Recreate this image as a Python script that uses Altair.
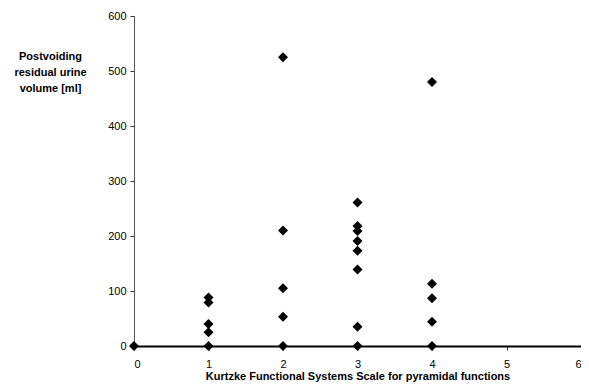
import altair as alt
import pandas as pd

# data
kfs_score = [0,
             1, 1, 1, 1, 1,
             2, 2, 2, 2, 2,
             3, 3, 3, 3, 3, 3, 3, 3,
             4, 4, 4, 4, 4]
residual_ml = [0,
               88, 79, 40, 25, 0,
               525, 210, 105, 53, 0,
               261, 218, 209, 191, 173, 139, 35, 0,
               480, 113, 87, 44, 0]

x_ticks = [0, 1, 2, 3, 4, 5, 6]
y_ticks = [0, 100, 200, 300, 400, 500, 600]

df = pd.DataFrame({"kfs": kfs_score, "pvr": residual_ml})

FONT = "Liberation Sans"

chart = alt.Chart(df).mark_point(
    shape="diamond", filled=True, color="black", size=100, opacity=1
).encode(
    x=alt.X("kfs:Q",
            scale=alt.Scale(domain=[0, 6], nice=False, zero=True),
            axis=alt.Axis(values=x_ticks, format="d", grid=False,
                          domainColor="black", domainWidth=2,
                          tickColor="#333", tickSize=4,
                          labelFont=FONT, labelFontSize=11, labelColor="black",
                          labelPadding=8,
                          title="Kurtzke Functional Systems Scale for pyramidal functions",
                          titleFont=FONT, titleFontSize=11, titleFontWeight="bold",
                          titleColor="black", titlePadding=1)),
    y=alt.Y("pvr:Q",
            scale=alt.Scale(domain=[0, 600], nice=False),
            axis=alt.Axis(values=y_ticks, grid=False,
                          domainColor="#555", domainWidth=1,
                          tickColor="#333", tickSize=4,
                          labelFont=FONT, labelFontSize=11, labelColor="black",
                          labelPadding=4,
                          title=["Postvoiding", "residual urine", "volume [ml]"],
                          titleFont=FONT, titleFontSize=11, titleFontWeight="bold",
                          titleColor="black", titleAngle=0, titleAlign="center",
                          titleBaseline="top", titleX=-84, titleY=34,
                          titleLineHeight=16)),
).properties(
    width=447, height=330,
    background="white",
    autosize=alt.AutoSizeParams(type="none"),
    padding={"left": 126, "top": 8, "right": 0, "bottom": 38},
).configure_view(stroke="transparent", strokeWidth=0)

chart.save("out.html", embed_options={"renderer": "svg", "actions": False})
